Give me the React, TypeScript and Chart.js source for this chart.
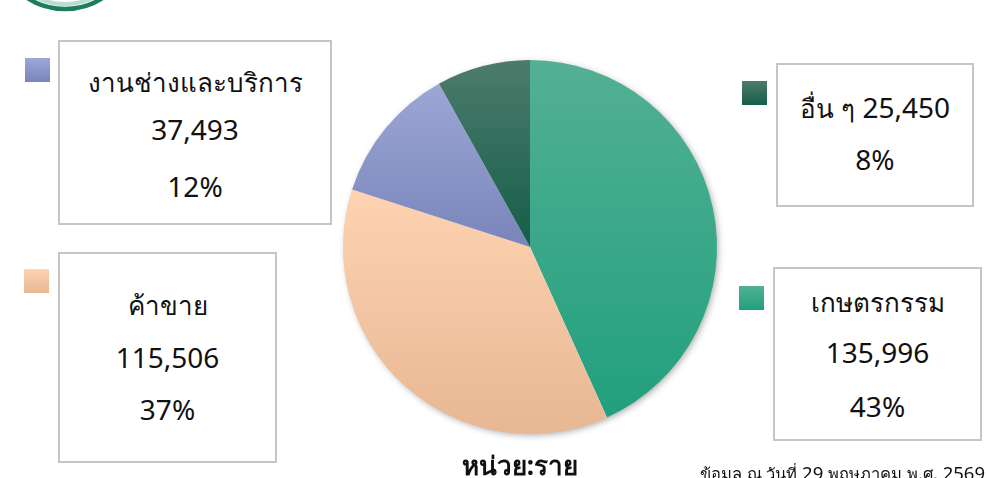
import React, { useEffect, useRef } from "react";
import { Chart, registerables } from "chart.js";

Chart.register(...registerables);

const labels = ["เกษตรกรรม", "ค้าขาย", "งานช่างและบริการ", "อื่น ๆ"];
const values = [135996, 115506, 37493, 25450];
const topColors = ["#53b094", "#fed3b1", "#9ca7d6", "#4d7b6c"];
const bottomColors = ["#21a07d", "#e8b793", "#7985ba", "#155e49"];
const unitLabel = "หน่วย:ราย";
const footnote = "ข้อมูล ณ วันที่ 29 พฤษภาคม พ.ศ. 2569";

const total = values.reduce((a, b) => a + b, 0);
const pct = values.map((v) => Math.round((v / total) * 100) + "%");
const fmt = (v: number) => v.toLocaleString("en-US");

// layout only
const boxLayout = [
  { left: 773, top: 267, width: 209, height: 174, sq: [739, 286], lines: [301, 352, 406], merged: false },
  { left: 58, top: 252, width: 219, height: 211, sq: [24, 269], lines: [304, 357, 409], merged: false },
  { left: 58, top: 40, width: 274, height: 185, sq: [25, 58], lines: [81, 129, 186], merged: false },
  { left: 776, top: 63, width: 198, height: 144, sq: [742, 81], lines: [107, 159], merged: true },
];

const FONT = "'Noto Sans', 'DejaVu Sans', sans-serif";

// split text into Thai / non-Thai runs so each can be sized to match the reference
function Runs({ text, thai, latin }: { text: string; thai: number; latin: number }) {
  const parts = text.match(/[\u0E00-\u0E7F]+|[^\u0E00-\u0E7F]+/g) || [];
  return (
    <>
      {parts.map((p, k) => (
        <span key={k} style={{ fontSize: /[\u0E00-\u0E7F]/.test(p) ? thai : latin }}>
          {p}
        </span>
      ))}
    </>
  );
}

function sliceGradient(ctx: any) {
  const chart = ctx.chart;
  const area = chart.chartArea;
  const i = ctx.dataIndex;
  if (!area || i === undefined) return topColors[i ?? 0];
  const cx = (area.left + area.right) / 2;
  const cy = (area.top + area.bottom) / 2;
  const r = Math.min(area.right - area.left, area.bottom - area.top) / 2;
  let start = 0;
  for (let k = 0; k < i; k++) start += (values[k] / total) * Math.PI * 2;
  const end = start + (values[i] / total) * Math.PI * 2;
  const ys: number[] = [cy];
  const steps = 60;
  for (let s = 0; s <= steps; s++) {
    const a = start + ((end - start) * s) / steps;
    ys.push(cy - r * Math.cos(a));
  }
  const y0 = Math.min(...ys);
  const y1 = Math.max(...ys);
  const g = chart.ctx.createLinearGradient(0, y0, 0, y1);
  g.addColorStop(0, topColors[i]);
  g.addColorStop(1, bottomColors[i]);
  return g;
}

const shadowPlugin = {
  id: "pieShadow",
  beforeDatasetsDraw(chart: any) {
    const area = chart.chartArea;
    const c = chart.ctx;
    const cx = (area.left + area.right) / 2;
    const cy = (area.top + area.bottom) / 2;
    const r = Math.min(area.right - area.left, area.bottom - area.top) / 2;
    c.save();
    c.shadowColor = "rgba(0,0,0,0.35)";
    c.shadowBlur = 7;
    c.shadowOffsetX = 2;
    c.shadowOffsetY = 2;
    c.beginPath();
    c.arc(cx, cy, r - 1, 0, Math.PI * 2);
    c.fillStyle = "#ffffff";
    c.fill();
    c.restore();
  },
};

export default function App() {
  const ref = useRef<HTMLCanvasElement | null>(null);
  useEffect(() => {
    if (!ref.current) return;
    const chart = new Chart(ref.current, {
      type: "pie",
      data: {
        labels,
        datasets: [
          {
            data: values,
            backgroundColor: sliceGradient as any,
            borderWidth: 0,
          },
        ],
      },
      options: {
        animation: false,
        responsive: true,
        maintainAspectRatio: false,
        layout: { padding: { top: 60, bottom: 44, left: 343, right: 270 } },
        plugins: { legend: { display: false }, tooltip: { enabled: false } },
      },
      plugins: [shadowPlugin],
    });
    return () => chart.destroy();
  }, []);

  return (
    <div style={{ position: "absolute", left: 0, top: 0, width: 987, height: 478, overflow: "hidden", background: "#fff", fontFamily: FONT }}>
      <svg style={{ position: "absolute", left: 0, top: 0 }} width={160} height={30}>
        <circle cx={65} cy={-60} r={64} fill="none" stroke="#b8dece" strokeWidth={4} />
        <circle cx={65} cy={-60} r={69} fill="none" stroke="#1f7d5d" strokeWidth={4.5} />
      </svg>
      <div style={{ position: "absolute", left: 0, top: 0, width: 987, height: 478 }}>
        <canvas ref={ref} />
      </div>
      {boxLayout.map((b, i) => {
        const lines = b.merged ? [labels[i] + " " + fmt(values[i]), pct[i]] : [labels[i], fmt(values[i]), pct[i]];
        return (
          <React.Fragment key={i}>
            <div
              style={{
                position: "absolute",
                left: b.sq[0],
                top: b.sq[1],
                width: 25,
                height: 24,
                background: `linear-gradient(${topColors[i]}, ${bottomColors[i]})`,
              }}
            />
            <div
              style={{
                position: "absolute",
                left: b.left,
                top: b.top,
                width: b.width,
                height: b.height,
                border: "2px solid #c6c6c6",
                boxSizing: "border-box",
                background: "#fff",
              }}
            />
            {lines.map((t, j) => (
              <div
                key={j}
                style={{
                  position: "absolute",
                  left: b.left,
                  width: b.width,
                  top: b.lines[j] - 20,
                  height: 40,
                  lineHeight: "40px",
                  textAlign: "center",
                  fontSize: 28,
                  color: "#111",
                  whiteSpace: "nowrap",
                }}
              >
                <Runs text={t} thai={26} latin={28} />
              </div>
            ))}
          </React.Fragment>
        );
      })}
      <div style={{ position: "absolute", left: 420, width: 200, top: 445, lineHeight: "40px", textAlign: "center", fontSize: 26, fontWeight: "bold", color: "#111" }}>
        {unitLabel}
      </div>
      <div style={{ position: "absolute", left: 600, width: 385, top: 458, lineHeight: "30px", textAlign: "right", color: "#111", whiteSpace: "nowrap" }}>
        <Runs text={footnote} thai={16.5} latin={18.5} />
      </div>
    </div>
  );
}
